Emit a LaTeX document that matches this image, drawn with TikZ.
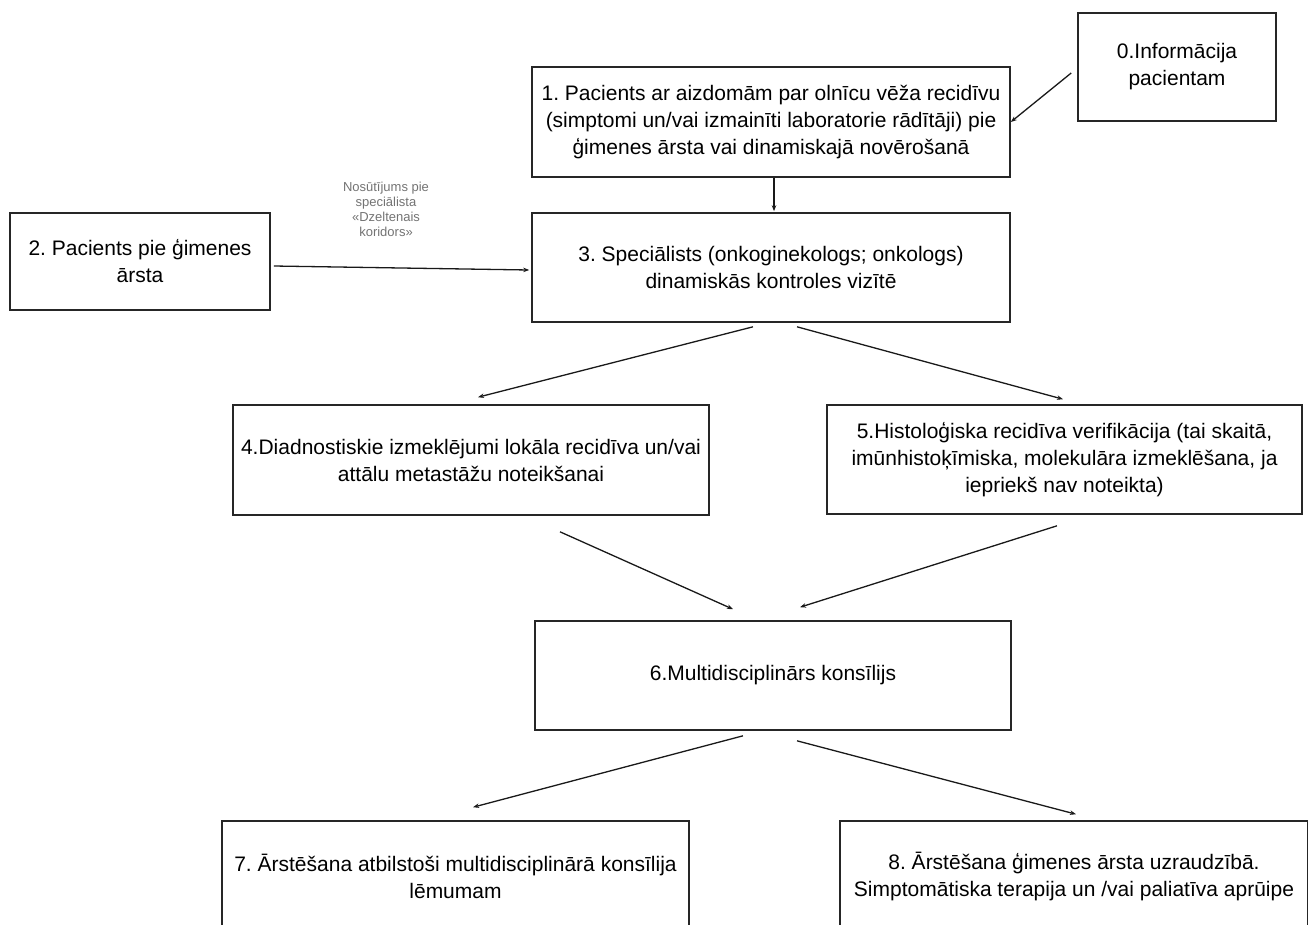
\documentclass[tikz,border=0pt]{standalone}
\usepackage{fontspec}
\setmainfont{Liberation Sans}
\usepackage{tikz}
\usetikzlibrary{arrows.meta,positioning,calc}
\frenchspacing
\tikzset{
    flow/.style={-{Stealth[length=6pt, width=4.5pt]}, line width=1.3pt, black!90},
    box/.style={draw=black!85, line width=1.6pt, rectangle, align=center, inner sep=0pt,
                font=\fontsize{21}{27}\selectfont},
    note/.style={align=center, text=black!55, font=\fontsize{13}{15}\selectfont}
}
\begin{document}
\begin{tikzpicture}[x=1pt, y=-1pt]
                    \useasboundingbox (0,0) rectangle (1308,924);
                    \clip (0,0) rectangle (1308,924);
                    \node[box, minimum width=198pt, minimum height=108pt] (N0) at (1177,67) {0.Informācija\\pacientam};
                    \node[box, minimum width=478pt, minimum height=110pt] (N1) at (771,122) {1. Pacients ar aizdomām par olnīcu vēža recidīvu\\(simptomi un/vai izmainīti laboratorie rādītāji) pie\\ģimenes ārsta vai dinamiskajā novērošanā};
                    \node[box, minimum width=260pt, minimum height=97pt] (N2) at (140,261.5) {2. Pacients pie ģimenes\\ārsta};
                    \node[box, minimum width=478pt, minimum height=109pt] (N3) at (771,267.5) {3. Speciālists (onkoginekologs; onkologs)\\dinamiskās kontroles vizītē};
                    \node[box, minimum width=476pt, minimum height=110pt] (N4) at (471,460) {4.Diadnostiskie izmeklējumi lokāla recidīva un/vai\\attālu metastāžu noteikšanai};
                    \node[box, minimum width=475pt, minimum height=109pt] (N5) at (1064.5,459.5) {5.Histoloģiska recidīva verifikācija (tai skaitā,\\imūnhistoķīmiska, molekulāra izmeklēšana, ja\\iepriekš nav noteikta)};
                    \node[box, minimum width=476pt, minimum height=109pt] (N6) at (773,675.5) {6.Multidisciplinārs konsīlijs};
                    \node[box, minimum width=467pt, minimum height=110pt] (N7) at (455.5,876) {7. Ārstēšana atbilstoši multidisciplinārā konsīlija\\lēmumam};
                    \node[box, minimum width=468pt, minimum height=110pt] (N8) at (1074,876) {8. Ārstēšana ģimenes ārsta uzraudzībā.\\Simptomātiska terapija un /vai paliatīva aprūipe};
                    \node[note] (L23) at (386,209) {Nosūtījums pie\\speciālista\\«Dzeltenais\\koridors»};
                    \draw[flow] ($(N0.west)+(-6,6)$) -- ($(N1.east)+(0,0)$);
                    \draw[flow] ($(N1.south)+(3,0)$) -- ($(N3.north)+(3,-1)$);
                    \draw[flow] ($(N2.east)+(3,4.5)$) -- ($(N3.west)+(-2,2.5)$);
                    \draw[flow] ($(N3.south)+(-18,4)$) -- ($(N4.north)+(7,-7)$);
                    \draw[flow] ($(N3.south)+(26,4)$) -- ($(N5.north)+(-1.5,-5)$);
                    \draw[flow] ($(N4.south)+(89,16)$) -- ($(N6.north)+(-40,-11)$);
                    \draw[flow] ($(N5.south)+(-7.5,11)$) -- ($(N6.north)+(27,-13)$);
                    \draw[flow] ($(N6.south)+(-30,5)$) -- ($(N7.north)+(17.5,-13)$);
                    \draw[flow] ($(N6.south)+(24,10)$) -- ($(N8.north)+(2,-6)$);
                \end{tikzpicture}
\end{document}
